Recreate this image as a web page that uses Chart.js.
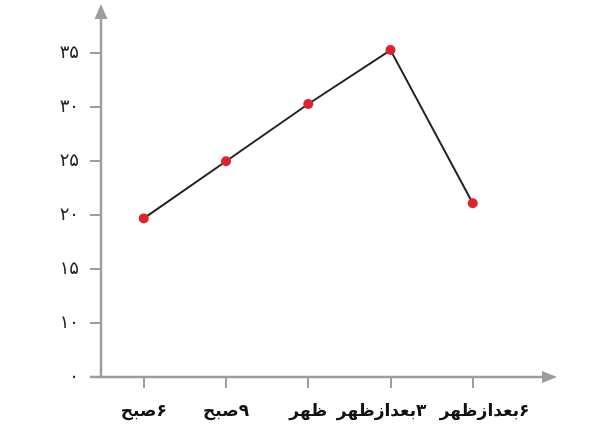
<!DOCTYPE html>
<html>
<head>
<meta charset="utf-8">
<script src="https://cdn.jsdelivr.net/npm/chart.js@4.4.1/dist/chart.umd.min.js"></script>
<style>
  html, body { margin:0; padding:0; background:#fff; }
  #wrap { width:615px; height:446px; }
</style>
</head>
<body>
<div id="wrap"><canvas id="chart1" width="615" height="446"></canvas></div>
<script>
// ── DATA ──────────────────────────────────────────────────
const TIMES  = ['۶صبح', '۹صبح', 'ظهر', '۳بعدازظهر', '۶بعدازظهر'];
const TEMPS  = [19.7, 25, 30.3, 35.3, 21.1];
const Y_TICKS  = [5, 10, 15, 20, 25, 30, 35];
const Y_LABELS = ['۰', '۱۰', '۱۵', '۲۰', '۲۵', '۳۰', '۳۵'];   // axis is broken: first tick reads 0

const AXIS = '#9d9d9d';
const RLM = '\u200F', NB = '\u00A0';
// labels in the original sit a little off their ticks (-n = left, +n = right)
const NUDGE = [0, 0, 0, -3, 4];

function xLabel(i) {
  const pad = NB.repeat(Math.abs(NUDGE[i]));
  if (NUDGE[i] < 0) return RLM + pad + TIMES[i] + RLM;   // spaces end up on the right
  return RLM + TIMES[i] + pad + RLM;                       // spaces end up on the left
}

// axis lines + arrow heads
const arrowAxes = {
  id: 'arrowAxes',
  afterDraw(chart) {
    const { ctx, chartArea: a } = chart;
    ctx.save();
    ctx.strokeStyle = AXIS; ctx.fillStyle = AXIS; ctx.lineWidth = 2.5;
    ctx.beginPath();
    ctx.moveTo(a.left, a.bottom); ctx.lineTo(a.left, 14);
    ctx.moveTo(90, a.bottom); ctx.lineTo(a.right - 8, a.bottom);
    ctx.stroke();
    // y arrow
    ctx.beginPath();
    ctx.moveTo(a.left, 4); ctx.lineTo(a.left - 6.5, 19); ctx.lineTo(a.left + 6.5, 19); ctx.closePath(); ctx.fill();
    // x arrow
    ctx.beginPath();
    ctx.moveTo(a.right + 2, a.bottom); ctx.lineTo(a.right - 13, a.bottom - 6); ctx.lineTo(a.right - 13, a.bottom + 6); ctx.closePath(); ctx.fill();
    ctx.restore();
  }
};

const ctx = document.getElementById('chart1').getContext('2d');
new Chart(ctx, {
  type: 'line',
  data: {
    datasets: [{
      data: TEMPS.map((v, i) => ({ x: i, y: v })),
      borderColor: '#222', borderWidth: 2, tension: 0,
      pointBackgroundColor: '#e0222b', pointBorderColor: '#e0222b',
      pointRadius: 5, pointBorderWidth: 0, pointHoverRadius: 5,
    }]
  },
  options: {
    responsive: false,
    animation: false,
    layout: { padding: { top: 8, right: 60, bottom: 0, left: 0 } },
    plugins: { legend: { display: false }, tooltip: { enabled: false } },
    scales: {
      x: {
        type: 'linear', min: -0.52, max: 5,
        afterFit: s => { s.height = 69; s.paddingLeft = 0; s.paddingRight = 0; },
        border: { display: false },
        grid: { drawOnChartArea: false, drawTicks: true, tickLength: 11, color: AXIS, lineWidth: 2 },
        ticks: {
          stepSize: 1, autoSkip: false, maxRotation: 0, includeBounds: false, padding: 13,
          color: '#111', font: { family: "'DejaVu Sans'", size: 17, weight: 'bold' },
          callback: v => (Number.isInteger(v) && TIMES[v] !== undefined) ? xLabel(v) : null,
        }
      },
      y: {
        min: 5, max: 39.2,
        afterFit: s => { s.width = 101; s.paddingTop = 0; s.paddingBottom = 0; },
        afterBuildTicks: s => { s.ticks = Y_TICKS.map(v => ({ value: v })); },
        border: { display: false },
        grid: { drawOnChartArea: false, drawTicks: true, tickLength: 11, color: AXIS, lineWidth: 2 },
        ticks: {
          padding: 11, color: '#222', font: { family: "'DejaVu Sans'", size: 18 },
          callback: v => { const i = Y_TICKS.indexOf(v); return i < 0 ? null : Y_LABELS[i]; },
        }
      }
    }
  },
  plugins: [arrowAxes]
});
</script>
</body>
</html>
